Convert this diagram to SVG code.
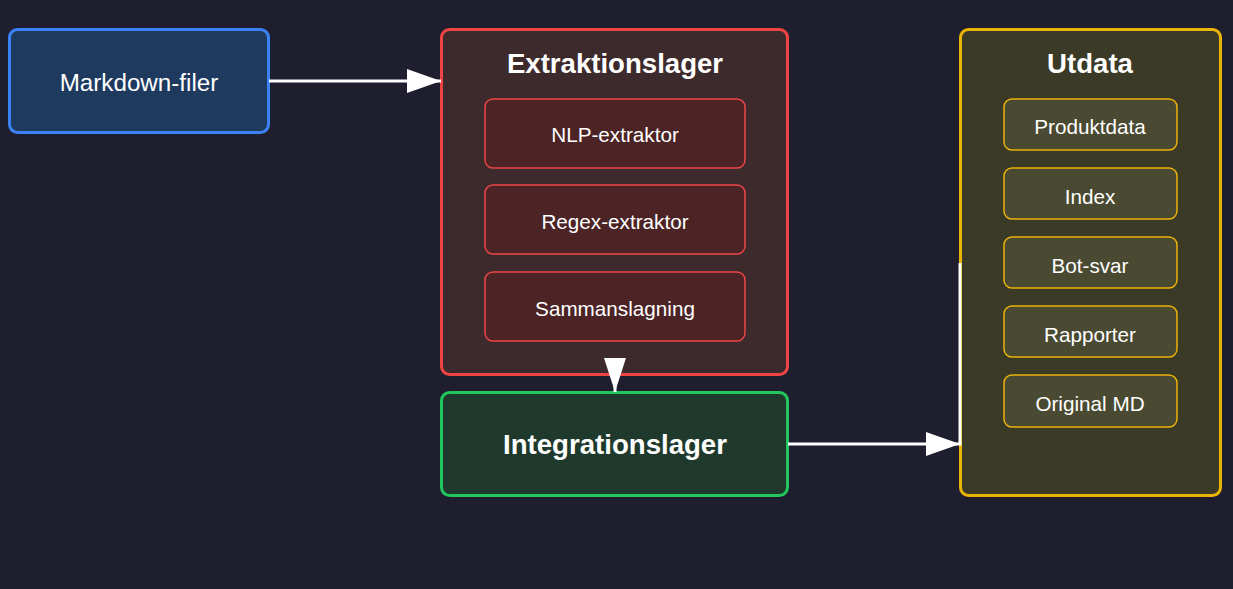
<svg xmlns="http://www.w3.org/2000/svg" width="1233" height="589" viewBox="0 0 1233 589">
<defs>
<style>
text{font-family:"Liberation Sans",Arial,sans-serif;fill:#ffffff;text-anchor:middle;dominant-baseline:central}
.title{font-size:27.6px;font-weight:bold}
.lbl{font-size:20.7px}
.big{font-size:24.2px}
.ext{fill:#3d2a2c;stroke:#ef4444;stroke-width:3}
.exti{fill:#4c2426;stroke:#ef4444;stroke-width:1.5}
.out{fill:#3b3a27;stroke:#eab308;stroke-width:3}
.outi{fill:#4a4a32;stroke:#eab308;stroke-width:1.5}
.edge{fill:none;stroke:#ffffff;stroke-width:3}
</style>
</defs>
<rect width="1233" height="589" fill="#1e1e2e"/>
<g id="markdown">
<rect x="9.5" y="29.5" width="259" height="103" rx="8" fill="#1e3a5f" stroke="#3b82f6" stroke-width="3"/>
<text class="big" x="139" y="82">Markdown-filer</text>
</g>
<g id="extraktion">
<rect class="ext" x="441.5" y="29.5" width="346" height="345" rx="8"/>
<text class="title" x="615" y="63">Extraktionslager</text>
<g id="nlp"><rect class="exti" x="485" y="99" width="260" height="69" rx="8"/><text class="lbl" x="615" y="134">NLP-extraktor</text></g>
<g id="regex"><rect class="exti" x="485" y="185" width="260" height="69" rx="8"/><text class="lbl" x="615" y="221">Regex-extraktor</text></g>
<g id="merge"><rect class="exti" x="485" y="272" width="260" height="69" rx="8"/><text class="lbl" x="615" y="308">Sammanslagning</text></g>
</g>
<g id="integration">
<rect x="441.5" y="392.5" width="346" height="103" rx="8" fill="#1f3a2c" stroke="#22c55e" stroke-width="3"/>
<text class="title" x="615" y="444">Integrationslager</text>
</g>
<g id="utdata">
<rect class="out" x="960.5" y="29.5" width="260" height="466" rx="8"/>
<text class="title" x="1090" y="63">Utdata</text>
<g id="produktdata"><rect class="outi" x="1004" y="99" width="173" height="51" rx="8"/><text class="lbl" x="1090" y="126">Produktdata</text></g>
<g id="index"><rect class="outi" x="1004" y="168" width="173" height="51" rx="8"/><text class="lbl" x="1090" y="196">Index</text></g>
<g id="botsvar"><rect class="outi" x="1004" y="237" width="173" height="51" rx="8"/><text class="lbl" x="1090" y="265">Bot-svar</text></g>
<g id="rapporter"><rect class="outi" x="1004" y="306" width="173" height="51" rx="8"/><text class="lbl" x="1090" y="334">Rapporter</text></g>
<g id="original"><rect class="outi" x="1004" y="375" width="173" height="52" rx="8"/><text class="lbl" x="1090" y="403">Original MD</text></g>
</g>
<g id="connectors">
<line class="edge" x1="269" y1="81" x2="441" y2="81"/>
<polygon points="441,81 407,69 407,93" fill="#ffffff"/>
<line class="edge" x1="615" y1="375" x2="615" y2="392"/>
<polygon points="615,392 604,358 626,358" fill="#ffffff"/>
<path class="edge" d="M788,444 H960 V263"/>
<polygon points="960,444 926,432 926,456" fill="#ffffff"/>
</g>
</svg>
